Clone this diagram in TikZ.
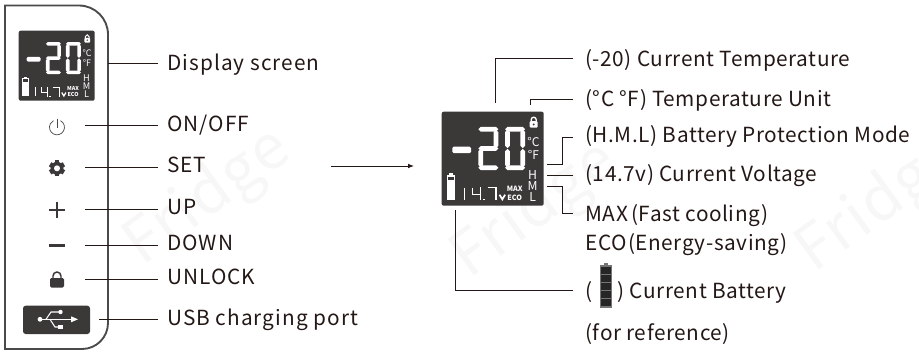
\documentclass[tikz,border=0pt]{standalone}
\usepackage{fontspec}
\setmainfont{Noto Sans CJK SC}[LetterSpace=2.8]
\newfontfamily\leftfont{Noto Sans CJK SC}[LetterSpace=5]
\newfontfamily\lcdfont{Noto Sans CJK SC}
\usepackage{tikz}
\usepackage{xcolor}
\usetikzlibrary{arrows.meta}

\definecolor{lcdbg}{HTML}{3B3838}
\definecolor{inktext}{HTML}{231815}
\definecolor{panelline}{HTML}{4A4A4A}

\tikzset{
	label/.style={anchor=base west, inner xsep=0pt, inner ysep=0pt, text=inktext, font=\fontsize{15.6}{18}\selectfont},
	leftlabel/.style={label, inner xsep=6.75pt, font=\fontsize{15.6}{18}\leftfont},
	rightlabel/.style={label, inner xsep=9pt},
	leader/.style={draw=inktext, line width=0.7pt},
	lcdtext/.style={text=white, inner sep=0pt},
	mark faint/.style={text=black!3, font=\fontsize{46}{50}\selectfont, inner sep=0pt, rotate=36},
}

% one segment of the big digits: start x, centre y, length
\newcommand{\lcdhor}[3]{\fill [white] (#1,#2) -- ++(2.4,-2.4) -- ++(#3-4.8,0) -- ++(2.4,2.4) -- ++(-2.4,2.4) -- ++(-#3+4.8,0) -- cycle;}
\newcommand{\lcdver}[3]{\fill [white] (#1,#2) -- ++(2.4,2.4) -- ++(0,#3-4.8) -- ++(-2.4,2.4) -- ++(-2.4,-2.4) -- ++(0,-#3+4.8) -- cycle;}

\newcommand{\lcdlock}[3]{
	\fill [white, rounded corners=0.8pt] (#1-4,#2-1.5) rectangle (#1+4,#2+5);
	\draw [white, line width=#3*1pt] (#1-2.5,#2-1) -- (#1-2.5,#2-3) arc (180:360:2.5) -- (#1+2.5,#2-1);
	\fill [lcdbg] (#1,#2+1.7) circle (1.1);
}

\newcommand{\lcdscreen}[4]{
	\begin{scope}[shift={(#2,#3)}, scale=#4, transform shape, name prefix=#1]
		\fill [lcdbg, rounded corners=1.5pt] (0,0) rectangle (102,94);
		\lcdlock{92}{11}{#4}
		% minus sign
		\fill [white, rounded corners=1pt] (10.7,35) rectangle (29.3,41.5);
		% digit 2
		\lcdhor{36.6}{17.6}{20}
		\lcdver{54.2}{18}{18.4}
		\lcdhor{36.6}{36.8}{20}
		\lcdver{39}{37.2}{18.4}
		\lcdhor{36.6}{56}{20}
		% digit 0
		\lcdhor{63.4}{17.6}{20}
		\lcdver{65.8}{18}{18.4}
		\lcdver{81}{18}{18.4}
		\lcdver{65.8}{37.2}{18.4}
		\lcdver{81}{37.2}{18.4}
		\lcdhor{63.4}{56}{20}
		% battery
		\fill [white] (5,63.5) rectangle (13.5,88);
		\fill [white] (7.5,61.5) rectangle (11,63.5);
		\fill [lcdbg] (6.4,65) rectangle (12.1,68.5);
		% voltage
		\draw [white, line width=#4*1pt] (23,76) -- (23,88);
		\draw [white, line width=#4*1pt] (30.6,76) -- (30.6,82.6) -- (38.5,82.6) (38.5,75.5) -- (38.5,88.4);
		\fill [white] (41.3,87) rectangle (42.9,88.6);
		\draw [white, line width=#4*1pt] (46,76) -- (54.3,76) -- (54.3,88.4);
		\draw [white, line width=#4*1.3pt] (57.8,83) -- (60.6,87.6) -- (63.4,83);
		% texts on the screen
		\node [lcdtext, font=\fontsize{9}{9}\lcdfont] (cel) at (91.7,30) {°C};
		\node [lcdtext, font=\fontsize{9}{9}\lcdfont] (fah) at (91.7,43) {°F};
		\node [lcdtext, font=\fontsize{9.2}{10}\lcdfont] (high) at (91,63.3) {H};
		\node [lcdtext, font=\fontsize{9.2}{10}\lcdfont] (mid) at (91,74) {M};
		\node [lcdtext, font=\fontsize{9.2}{10}\lcdfont] (low) at (91,85) {L};
		\node [lcdtext, font=\fontsize{5.4}{6}\lcdfont\bfseries] (max) at (73,77) {MAX};
		\node [lcdtext, font=\fontsize{5.4}{6}\lcdfont\bfseries] (eco) at (73,86) {ECO};
	\end{scope}
}

\begin{document}
\begin{tikzpicture}[x=0.75pt,y=-0.75pt]
	\useasboundingbox (0,0) rectangle (919,351);
	
	% watermarks
	\node [mark faint] (mark1) at (208,198) {Fridge};
	\node [mark faint] (mark2) at (880,205) {Fridge};
	\node [mark faint] (mark3) at (535,211) {Fridge};
	
	% panel
	\draw [panelline, line width=1.4pt] (5,5.5) -- (79,5.5) arc (-90:0:29) -- (108,323) arc (0:90:26) -- (5,349) -- cycle;
	
	\lcdscreen{small-}{18.7}{30.7}{0.745}
	\lcdscreen{big-}{441.7}{111.7}{1}
	
	% power
	\draw [panelline, line width=0.55pt] (60.5,120.7) arc (-62:242:7.5);
	\draw [panelline, line width=0.55pt] (57,118.5) -- (57,127.5);
	% gear
	\fill [lcdbg] (57,168.3) circle (6.5);
	\foreach \a in {0,60,...,300}
		\fill [lcdbg, rotate around={\a:(57,168.3)}] (54.6,160.3) rectangle (59.4,165);
	\fill [white] (57,168.3) circle (3);
	% plus, minus
	\fill [lcdbg] (49,209) rectangle (65,211.2);
	\fill [lcdbg] (55.9,202) rectangle (58.1,218);
	\fill [lcdbg] (49,243.7) rectangle (65,246.6);
	% lock
	\fill [lcdbg, rounded corners=1pt] (50,278) rectangle (64,287.5);
	\draw [lcdbg, line width=1.1pt] (53,278) -- (53,276) arc (180:360:4) -- (61,278);
	% usb
	\fill [lcdbg, rounded corners=2pt] (23,305.7) rectangle (90,334);
	\fill [white] (40,319.3) circle (2.4);
	\draw [white, line width=0.8pt] (40,319.3) -- (72,319.3);
	\fill [white] (71,316.3) -- (78,319.3) -- (71,322.3) -- cycle;
	\draw [white, line width=0.8pt] (46,319.3) -- (51,312) -- (59,312);
	\draw [white, line width=0.8pt] (50,319.3) -- (55,327) -- (59,327);
	\fill [white] (60.5,312) circle (2.2);
	\fill [white] (58,324.8) rectangle (63,329.3);
	
	% left labels
	\node [leftlabel] (display) at (158,70.5) {Display screen};
	\node [leftlabel] (onoff) at (158,131.7) {ON/OFF};
	\node [leftlabel] (set) at (158,172.3) {SET};
	\node [leftlabel] (up) at (158,214) {UP};
	\node [leftlabel] (down) at (158,250) {DOWN};
	\node [leftlabel] (unlock) at (158,284) {UNLOCK};
	\node [leftlabel] (usb) at (158,325) {USB charging port};
	
	\coordinate (displayend) at (108,63);
	\coordinate (onoffend) at (85,125.7);
	\coordinate (setend) at (85,167.7);
	\coordinate (upend) at (85,209.3);
	\coordinate (downend) at (85,245);
	\coordinate (unlockend) at (85,279);
	\coordinate (usbend) at (99,319.3);
	
	\draw [leader] (displayend) -- (displayend -| display.west);
	\draw [leader] (onoffend) -- (onoffend -| onoff.west);
	\draw [leader] (setend) -- (setend -| set.west);
	\draw [leader] (upend) -- (upend -| up.west);
	\draw [leader] (downend) -- (downend -| down.west);
	\draw [leader] (unlockend) -- (unlockend -| unlock.west);
	\draw [leader] (usbend) -- (usbend -| usb.west);
	
	% arrow between the two screens
	\coordinate (arrowstart) at (331,166);
	\coordinate (arrowend) at (414,166);
	\draw [leader, -{Latex[length=4.5pt,width=3.5pt]}] (arrowstart) -- (arrowend);
	
	% right labels
	\node [rightlabel] (temp) at (573,66.7) {(-20) Current Temperature};
	\node [rightlabel] (unit) at (573,106) {(°C °F) Temperature Unit};
	\node [rightlabel] (mode) at (573,142.7) {(H.M.L) Battery Protection Mode};
	\node [rightlabel] (volt) at (573,181) {(14.7v) Current Voltage};
	\node [rightlabel] (maxl) at (573,221) {MAX\hspace{2.5pt}(Fast cooling)};
	\node [rightlabel] (ecol) at (573,250.7) {ECO\hspace{1pt}(Energy-saving)};
	\node [rightlabel] (batt) at (573,298) {(\hspace{19pt}) Current Battery};
	\node [rightlabel] (refer) at (573,340) {(for reference)};
	
	\coordinate (tempend) at (495,103);
	\coordinate (unitend) at (530,105);
	\coordinate (modeend) at (547,164);
	\coordinate (voltend) at (547,175.3);
	\coordinate (maxend) at (547,186.7);
	\coordinate (battend) at (455,210);
	
	\draw [leader] (tempend) |- (573,58);
	\draw [leader] (unitend) |- (573,99);
	\draw [leader] (modeend) -- (562,164) |- (573,137.7);
	\draw [leader] (voltend) -- (voltend -| volt.west);
	\draw [leader] (maxend) -- (562,186.7) |- (573,213);
	\draw [leader] (battend) |- (573,290);
	
	% battery in the label
	\fill [lcdbg!70] (604,263) rectangle (608,266);
	\fill [lcdbg!70] (600,265) rectangle (612,307.5);
	\foreach \y in {267,275,283,291,299}
		\fill [black!85] (601.3,\y) rectangle (610.7,\y+6.8);
\end{tikzpicture}
\end{document}
